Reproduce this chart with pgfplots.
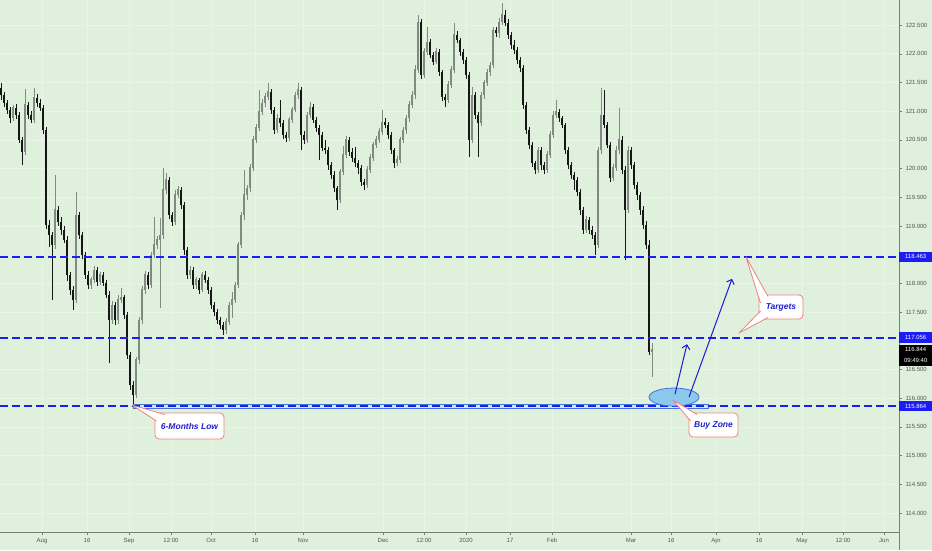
\documentclass[border=0pt]{standalone}
\usepackage{fontspec}
\setmainfont{Liberation Sans}
\usepackage{pgfplots}
\pgfplotsset{compat=1.18}
\usepackage{pgfplotstable}
\usetikzlibrary{arrows.meta}

\definecolor{bgc}{RGB}{223,240,220}
\definecolor{gridc}{RGB}{233,245,230}
\definecolor{upc}{RGB}{128,138,128}
\definecolor{dnc}{RGB}{22,22,22}
\definecolor{lvl}{RGB}{28,28,245}
\definecolor{axc}{RGB}{120,128,120}
\definecolor{labc}{RGB}{85,85,85}
\definecolor{callc}{RGB}{238,128,128}
\definecolor{txtc}{RGB}{32,32,205}
\definecolor{ellf}{RGB}{140,200,236}
\definecolor{elld}{RGB}{70,115,215}
\definecolor{bandf}{RGB}{205,230,248}
\definecolor{arrc}{RGB}{25,25,215}

% 12h candles: x = bar position, o h l c = prices
\pgfplotstableread{
x o h l c
1 121.40 121.49 121.20 121.28
4 121.28 121.33 121.07 121.14
7 121.14 121.20 120.95 121.02
10 121.02 121.07 120.79 120.88
13 120.88 121.11 120.83 121.06
16 121.06 121.12 120.86 120.93
19 120.93 120.98 120.45 120.50
22 120.50 120.55 120.06 120.29
25 120.29 121.39 120.24 121.11
28 121.11 121.16 120.86 120.93
31 120.93 121.00 120.79 120.85
34 120.85 121.40 120.80 121.23
37 121.23 121.30 121.08 121.14
40 121.14 121.22 121.00 121.06
43 121.06 121.10 120.60 120.67
46 120.67 120.72 118.95 119.02
49 119.02 119.10 118.63 118.84
52 118.84 118.90 117.71 118.67
55 118.67 119.89 118.60 119.28
58 119.28 119.35 119.00 119.07
61 119.07 119.15 118.85 118.93
64 118.93 119.00 118.70 118.76
67 118.76 118.82 118.05 118.15
70 118.15 118.20 117.80 117.89
73 117.89 117.95 117.54 117.71
76 117.71 119.59 117.65 119.19
79 119.19 119.25 118.78 118.84
82 118.84 118.90 118.42 118.49
85 118.49 118.55 118.08 118.15
88 118.15 118.22 117.90 117.97
91 117.97 118.12 117.90 118.06
94 118.06 118.30 118.00 118.23
97 118.23 118.28 117.96 118.02
100 118.02 118.20 117.97 118.15
103 118.15 118.20 117.95 118.01
106 118.01 118.06 117.74 117.80
109 117.80 117.86 116.61 117.36
112 117.36 117.70 117.30 117.62
115 117.62 117.68 117.28 117.36
118 117.36 117.80 117.30 117.71
121 117.71 117.92 117.65 117.76
124 117.76 117.80 117.38 117.45
127 117.45 117.50 116.68 116.75
130 116.75 116.80 116.15 116.23
133 116.23 116.30 115.86 116.06
136 116.06 116.72 116.00 116.67
139 116.67 117.42 116.60 117.36
142 117.36 117.95 117.30 117.89
145 117.89 118.22 117.82 118.15
148 118.15 118.20 117.90 117.97
151 117.97 118.55 117.92 118.49
154 118.49 119.16 118.44 118.67
157 118.67 118.82 118.60 118.76
160 118.76 119.14 117.57 118.84
163 118.84 120.01 118.78 119.63
166 119.63 119.92 119.55 119.80
169 119.80 119.85 119.12 119.19
172 119.19 119.25 119.00 119.07
175 119.07 119.62 119.02 119.54
178 119.54 119.70 119.48 119.63
181 119.63 119.68 119.30 119.37
184 119.37 119.42 118.50 118.58
187 118.58 118.64 118.08 118.15
190 118.15 118.30 118.08 118.23
193 118.23 118.28 117.90 117.97
196 117.97 118.12 117.90 118.06
199 118.06 118.10 117.82 117.89
202 117.89 118.20 117.85 118.15
205 118.15 118.22 118.00 118.06
208 118.06 118.12 117.82 117.89
211 117.89 117.94 117.55 117.62
214 117.62 117.68 117.44 117.50
217 117.50 117.56 117.30 117.36
220 117.36 117.42 117.20 117.27
223 117.27 117.32 117.10 117.19
226 117.19 117.40 117.12 117.33
229 117.33 117.68 117.28 117.62
232 117.62 117.85 117.40 117.71
235 117.71 118.02 117.66 117.97
238 117.97 118.72 117.92 118.67
241 118.67 119.25 118.62 119.19
244 119.19 119.98 119.10 119.54
247 119.54 119.72 119.45 119.66
250 119.66 120.08 119.60 120.01
253 120.01 120.56 119.95 120.50
256 120.50 120.78 120.44 120.71
259 120.71 121.37 120.65 120.99
262 120.99 121.22 120.93 121.14
265 121.14 121.32 121.08 121.25
268 121.25 121.49 121.20 121.34
271 121.34 121.38 120.95 121.02
274 121.02 121.08 120.60 120.67
277 120.67 120.95 120.62 120.88
280 120.88 121.20 120.72 120.79
283 120.79 120.85 120.52 120.59
286 120.59 120.64 120.46 120.53
289 120.53 120.90 120.48 120.85
292 120.85 121.08 120.80 121.02
295 121.02 121.34 120.98 121.28
298 121.28 121.49 121.22 121.37
301 121.37 121.42 120.32 120.59
304 120.59 120.65 120.42 120.50
307 120.50 120.98 120.45 120.93
310 120.93 121.16 120.88 121.07
313 121.07 121.12 120.80 120.85
316 120.85 120.90 120.64 120.71
319 120.71 120.76 120.15 120.59
322 120.59 120.64 120.30 120.36
325 120.36 120.50 120.25 120.32
328 120.32 120.38 119.98 120.06
331 120.06 120.12 119.82 119.89
334 119.89 119.95 119.60 119.66
337 119.66 119.70 119.28 119.45
340 119.45 120.00 119.40 119.94
343 119.94 120.40 119.88 120.24
346 120.24 120.56 120.18 120.50
349 120.50 120.55 120.22 120.29
352 120.29 120.35 120.12 120.19
355 120.19 120.38 120.02 120.10
358 120.10 120.15 119.90 120.01
361 120.01 120.06 119.70 119.77
364 119.77 119.82 119.62 119.71
367 119.71 120.04 119.66 119.98
370 119.98 120.25 119.93 120.19
373 120.19 120.46 120.14 120.41
376 120.41 120.56 120.36 120.50
379 120.50 120.70 120.44 120.64
382 120.64 121.02 120.58 120.81
385 120.81 120.88 120.70 120.76
388 120.76 120.82 120.52 120.59
391 120.59 120.64 120.25 120.32
394 120.32 120.36 120.01 120.10
397 120.10 120.22 120.04 120.15
400 120.15 120.55 120.10 120.50
403 120.50 120.72 120.44 120.67
406 120.67 120.94 120.60 120.88
409 120.88 121.18 120.82 121.11
412 121.11 121.35 121.05 121.28
415 121.28 121.80 121.22 121.72
418 121.72 122.68 121.66 122.55
421 122.55 122.60 121.56 121.63
424 121.63 122.10 121.58 122.03
427 122.03 122.47 121.98 122.20
430 122.20 122.25 121.92 121.98
433 121.98 122.03 121.80 121.86
436 121.86 122.10 121.82 122.03
439 122.03 122.08 121.62 121.68
442 121.68 121.72 121.18 121.25
445 121.25 121.30 121.07 121.20
448 121.20 121.52 121.15 121.46
451 121.46 121.78 121.40 121.72
454 121.72 122.54 121.66 122.33
457 122.33 122.40 122.18 122.24
460 122.24 122.28 121.96 122.03
463 122.03 122.08 121.82 121.89
466 121.89 121.94 121.56 121.63
469 121.63 121.68 120.20 120.50
472 120.50 121.42 120.44 121.28
475 121.28 121.34 120.86 120.93
478 120.93 120.98 120.20 120.79
481 120.79 121.34 120.74 121.28
484 121.28 121.55 121.22 121.49
487 121.49 121.74 121.44 121.68
490 121.68 121.86 121.62 121.80
493 121.80 122.47 121.75 122.41
496 122.41 122.46 122.30 122.36
499 122.36 122.62 122.28 122.55
502 122.55 122.89 122.50 122.68
505 122.68 122.76 122.48 122.54
508 122.54 122.60 122.26 122.33
511 122.33 122.38 122.08 122.15
514 122.15 122.24 122.00 122.07
517 122.07 122.12 121.82 121.89
520 121.89 121.95 121.68 121.75
523 121.75 121.80 121.04 121.11
526 121.11 121.16 120.60 120.67
529 120.67 120.72 120.34 120.41
532 120.41 120.46 120.02 120.10
535 120.10 120.14 119.90 119.98
538 119.98 120.38 119.93 120.32
541 120.32 120.38 119.98 120.06
544 120.06 120.12 119.90 119.98
547 119.98 120.30 119.92 120.24
550 120.24 120.65 120.18 120.59
553 120.59 121.00 120.54 120.93
556 120.93 121.20 120.88 120.99
559 120.99 121.04 120.82 120.88
562 120.88 120.92 120.70 120.76
565 120.76 120.80 120.26 120.32
568 120.32 120.38 120.00 120.06
571 120.06 120.12 119.82 119.89
574 119.89 119.94 119.63 119.80
577 119.80 119.85 119.52 119.59
580 119.59 119.64 119.20 119.28
583 119.28 119.33 118.86 118.93
586 118.93 119.18 118.88 119.11
589 119.11 119.16 118.86 118.93
592 118.93 119.00 118.78 118.84
595 118.84 118.90 118.49 118.67
598 118.67 120.38 118.62 120.32
601 120.32 121.40 120.26 120.93
604 120.93 121.37 120.70 120.76
607 120.76 120.82 120.35 120.41
610 120.41 120.46 119.76 119.84
613 119.84 120.08 119.78 120.01
616 120.01 120.40 119.96 120.32
619 120.32 121.06 120.26 120.50
622 120.50 120.56 119.90 119.98
625 119.98 120.04 118.41 119.28
628 119.28 120.40 119.22 120.32
631 120.32 120.38 119.99 120.06
634 120.06 120.12 119.64 119.71
637 119.71 119.76 119.46 119.54
640 119.54 119.60 119.20 119.28
643 119.28 119.34 118.94 119.02
646 119.02 119.08 118.60 118.67
649 118.67 118.76 116.76 116.80
652 116.80 116.96 116.37 116.84
}\ohlc

\pgfplotsset{
  candle/.style 2 args={draw=none, no markers, forget plot,
    error bars/.cd, y dir=plus, y explicit, error mark=none,
    error bar style={draw=#1, solid, line width=#2}},
}
\tikzset{
  lvlline/.style={draw=lvl, line width=1.9pt, dash pattern=on 7.5pt off 4.5pt},
  callout/.style={draw=callc, fill=white, line width=0.8pt, rounded corners=4pt},
  ptr/.style={draw=callc, fill=white, line width=0.8pt, line join=round},
  ctext/.style={text=txtc, font=\fontsize{8.5}{10}\selectfont\bfseries\itshape},
  plab/.style={anchor=west, text=white, inner sep=0pt, minimum width=33pt,
    minimum height=10.5pt, font=\fontsize{6}{7}\selectfont},
  arr/.style={draw=arrc, line width=1pt, -{Straight Barb[length=4pt,width=8pt]}},
}

\begin{document}
\begin{tikzpicture}
\fill[bgc] (0pt,-18pt) rectangle (932pt,532pt);
\begin{axis}[
  at={(0pt,0pt)}, anchor=south west,
  width=899pt, height=532pt, scale only axis,
  xmin=0, xmax=899, ymin=113.669, ymax=122.937,
  axis x line*=bottom, axis y line*=right,
  axis line style={draw=axc, line width=0.7pt},
  tick align=outside, major tick length=3pt,
  tick style={draw=axc, line width=0.5pt},
  xtick={42,87,129,171,211,255,303,383,424,466,510,552,631,671,716,759,802,843,884},
  xticklabels={Aug,16,Sep,12:00,Oct,16,Nov,Dec,12:00,2020,17,Feb,Mar,16,Apr,16,May,12:00,Jun},
  ytick={114,114.5,115,115.5,116,116.5,117.5,118,119,119.5,120,120.5,121,121.5,122,122.5},
  yticklabel style={/pgf/number format/.cd, fixed, fixed zerofill, precision=3, assume math mode=true},
  tick label style={font=\fontsize{6}{7}\selectfont, text=labc},
  grid=major, major grid style={draw=gridc, line width=0.6pt},
  clip=false,
]
% wicks
\addplot[candle={upc}{0.7pt}]
  table[x=x, y expr={\thisrow{c}>=\thisrow{o} ? \thisrow{l} : nan},
        y error expr={\thisrow{h}-\thisrow{l}}] {\ohlc};
\addplot[candle={dnc}{0.7pt}]
  table[x=x, y expr={\thisrow{c}<\thisrow{o} ? \thisrow{l} : nan},
        y error expr={\thisrow{h}-\thisrow{l}}] {\ohlc};
% bodies
\addplot[candle={upc}{2.2pt}]
  table[x=x, y expr={\thisrow{c}>=\thisrow{o} ? \thisrow{o} : nan},
        y error expr={\thisrow{c}-\thisrow{o}+0.01}] {\ohlc};
\addplot[candle={dnc}{2.2pt}]
  table[x=x, y expr={\thisrow{c}<\thisrow{o} ? \thisrow{c} : nan},
        y error expr={\thisrow{o}-\thisrow{c}}] {\ohlc};

% band along the 6-month low
\draw[draw=elld, fill=bandf, line width=0.8pt] (axis cs:133,115.83) rectangle (axis cs:708,115.90);
% levels
\draw[lvlline] (axis cs:0,118.463) -- (axis cs:899,118.463);
\draw[lvlline] (axis cs:0,117.052) -- (axis cs:899,117.052);
\draw[lvlline] (axis cs:0,115.864) -- (axis cs:899,115.864);

% buy zone ellipse and arrows
\draw[draw=elld, fill=ellf, line width=0.8pt] (axis cs:674,116.02) ellipse [x radius=25pt, y radius=9pt];
\draw[arr] (axis cs:675,116.07) -- (axis cs:687,116.94);
\draw[arr] (axis cs:689,116.02) -- (axis cs:732,118.08);

% callouts
\draw[callout] (axis cs:155,115.742) rectangle (axis cs:224,115.289);
\path[ptr] (axis cs:165,115.716) -- (axis cs:132,115.88) -- (axis cs:156.5,115.603);
\node[ctext] at (axis cs:189.5,115.515) {6-Months Low};

\draw[callout] (axis cs:689,115.742) rectangle (axis cs:738,115.324);
\path[ptr] (axis cs:697,115.716) -- (axis cs:673,115.968) -- (axis cs:690.5,115.603);
\node[ctext] at (axis cs:713.5,115.533) {Buy Zone};

\draw[callout] (axis cs:759,117.798) rectangle (axis cs:803,117.379);
\path[ptr] (axis cs:768,117.772) -- (axis cs:746,118.46) -- (axis cs:760.5,117.658);
\path[ptr] (axis cs:760.5,117.519) -- (axis cs:739,117.136) -- (axis cs:768,117.406);
\node[ctext] at (axis cs:781,117.589) {Targets};

% price scale labels
\node[plab, fill=lvl] at (axis cs:899,118.463) {118.463};
\node[plab, fill=lvl] at (axis cs:899,117.056) {117.056};
\node[plab, fill=lvl] at (axis cs:899,115.864) {115.864};
\node[plab, fill=black, name=cur] at (axis cs:899,116.844) {116.844};
\node[plab, fill=black, anchor=north west] at (cur.south west) {09:49:40};
\end{axis}
\draw[axc, line width=0.7pt] (899pt,-18pt) -- (899pt,0pt);
\pgfresetboundingbox
\path[use as bounding box] (0pt,-18pt) rectangle (932pt,532pt);
\end{tikzpicture}
\end{document}
